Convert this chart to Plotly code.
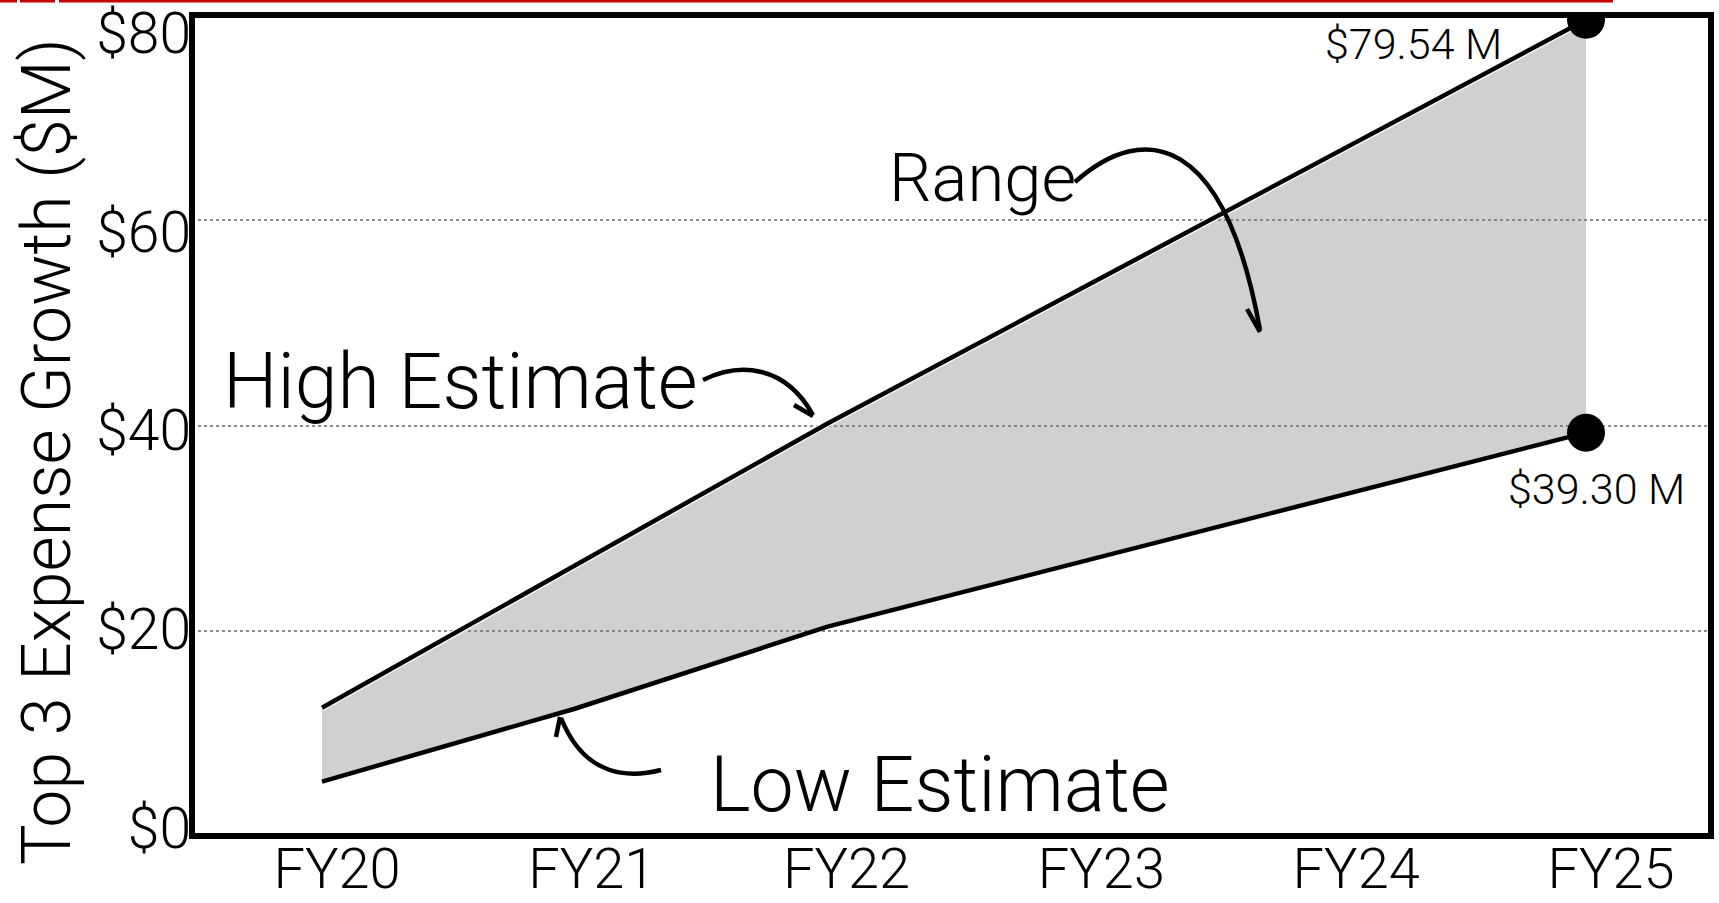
import plotly.graph_objects as go

# ---------------- data ----------------
YEARS = ["FY20", "FY21", "FY22", "FY23", "FY24", "FY25"]
HIGH = [12.5, 26.4, 40.2, 53.3, 66.4, 79.54]
LOW = [5.3, 12.4, 20.4, 26.7, 33.0, 39.30]
Y_TICKS = [0, 20, 40, 60, 80]
Y_TICK_TEXT = ["$0", "$20", "$40", "$60", "$80"]
END_LABELS = ["$79.54 M", "$39.30 M"]
Y_TITLE = "Top 3 Expense Growth ($M)"
NOTE_HIGH = "High Estimate"
NOTE_LOW = "Low Estimate"
NOTE_RANGE = "Range"

X = list(range(len(YEARS)))

# ---------------- layout geometry ----------------
FIG_W, FIG_H = 1719, 903
M = dict(l=192, r=8, t=15, b=67)
PW = FIG_W - M["l"] - M["r"]
PH = FIG_H - M["t"] - M["b"]
PLOT_TOP, PLOT_BOTTOM = M["t"], FIG_H - M["b"]


def px(x):
    return (x - M["l"]) / PW


def py(y):
    return (PLOT_BOTTOM - y) / PH


def path(cmds):
    out = []
    for c, pts in cmds:
        out.append(c + " " + " ".join(f"{px(a):.5f},{py(b):.5f}" for a, b in pts))
    return " ".join(out)


FONT = "Roboto, 'Open Sans', sans-serif"
LIGHT = 300

fig = go.Figure()

# fill between low and high
fig.add_trace(go.Scatter(x=X, y=LOW, mode="lines", line=dict(width=0, color="rgba(0,0,0,0)"),
                         hoverinfo="skip", showlegend=False))
fig.add_trace(go.Scatter(x=X, y=HIGH, mode="lines", line=dict(width=0, color="rgba(0,0,0,0)"),
                         fill="tonexty", fillcolor="rgba(127,127,127,0.37)",
                         hoverinfo="skip", showlegend=False))
# lines (thin white halo under the high line, as in the reference)
fig.add_trace(go.Scatter(x=X, y=HIGH, mode="lines", line=dict(width=7, color="white"),
                         hoverinfo="skip", showlegend=False))
fig.add_trace(go.Scatter(x=X, y=LOW, mode="lines", line=dict(width=4.5, color="black"),
                         showlegend=False))
fig.add_trace(go.Scatter(x=X, y=HIGH, mode="lines", line=dict(width=4.5, color="black"),
                         showlegend=False))
# end markers
fig.add_trace(go.Scatter(x=[X[-1], X[-1]], y=[HIGH[-1], LOW[-1]], mode="markers",
                         marker=dict(size=38, color="black"), showlegend=False))
# invisible trace carrying the label axis (labels sit slightly off the gridlines)
fig.add_trace(go.Scatter(x=X, y=LOW, yaxis="y2", mode="lines",
                         line=dict(width=0, color="rgba(0,0,0,0)"),
                         hoverinfo="skip", showlegend=False))

shapes = []
# plot frame
shapes.append(dict(type="rect", xref="paper", yref="paper", x0=0, x1=1, y0=0, y1=1,
                   line=dict(color="black", width=6), layer="above"))
# red rule at the very top (cropped slide artefact)
for a, b in [(0, 17), (20, 55), (59, 1613)]:
    shapes.append(dict(type="rect", xref="paper", yref="paper", x0=px(a), x1=px(b),
                       y0=py(2.5), y1=py(0), line=dict(width=0), fillcolor="#c40000",
                       layer="above"))

# curved arrows
arrow_style = dict(type="path", xref="paper", yref="paper",
                   line=dict(color="black", width=4.5), layer="above")
arrows = [
    # Range
    [("M", [(1075, 182)]), ("C", [(1145, 120), (1225, 135), (1260, 330)])],
    [("M", [(1247, 309)]), ("L", [(1260, 332), (1271, 309)])],
    # High estimate
    [("M", [(703, 380)]), ("C", [(740, 362), (785, 365), (813, 415)])],
    [("M", [(794, 405)]), ("L", [(813, 416), (810, 393)])],
    # Low estimate
    [("M", [(661, 770)]), ("C", [(630, 778), (585, 778), (561, 718)])],
    [("M", [(556, 737)]), ("L", [(560, 717), (579, 730)])],
]
for a in arrows:
    shapes.append(dict(arrow_style, path=path(a)))

annotations = [
    dict(text=Y_TITLE, xref="paper", yref="paper", x=px(47), y=py(452), textangle=-90,
         showarrow=False, xanchor="center", yanchor="middle",
         font=dict(family=FONT, size=68, color="black", weight=LIGHT)),
    dict(text=NOTE_HIGH, xref="paper", yref="paper", x=px(460), y=py(382),
         showarrow=False, xanchor="center", yanchor="middle",
         font=dict(family=FONT, size=77, color="black", weight=LIGHT)),
    dict(text=NOTE_LOW, xref="paper", yref="paper", x=px(940), y=py(785),
         showarrow=False, xanchor="center", yanchor="middle",
         font=dict(family=FONT, size=77, color="black", weight=LIGHT)),
    dict(text=NOTE_RANGE, xref="paper", yref="paper", x=px(982), y=py(178),
         showarrow=False, xanchor="center", yanchor="middle",
         font=dict(family=FONT, size=67, color="black", weight=LIGHT)),
    dict(text=END_LABELS[0], x=X[-1], y=HIGH[-1], xshift=-173, yshift=-24,
         showarrow=False, xanchor="center", yanchor="middle",
         font=dict(family=FONT, size=43, color="black", weight=LIGHT)),
    dict(text=END_LABELS[1], x=X[-1], y=LOW[-1], xshift=10, yshift=-56,
         showarrow=False, xanchor="center", yanchor="middle",
         font=dict(family=FONT, size=43, color="black", weight=LIGHT)),
]

# x positions: data at index 0..5; tick labels slightly offset/spaced as in reference
X0_PX, X5_PX = 322, 1586
UNIT = (X5_PX - X0_PX) / 5
x_range = [-(X0_PX - M["l"]) / UNIT, 5 + (M["l"] + PW - X5_PX) / UNIT]
LABEL0_PX, LABEL_STEP_PX = 337, 254.8
tickvals = [(LABEL0_PX - X0_PX) / UNIT + i * LABEL_STEP_PX / UNIT for i in X]

# y tick labels: $0 centred near 828 px, $80 near the top edge (reference spacing)
YL0_PX, YL80_PX = 828, 33
YUNIT = (YL0_PX - YL80_PX) / 80
y2_range = [-(PLOT_BOTTOM - YL0_PX) / YUNIT, 80 + (YL80_PX - PLOT_TOP) / YUNIT]

fig.update_layout(
    width=FIG_W, height=FIG_H, margin=M,
    paper_bgcolor="white", plot_bgcolor="white",
    shapes=shapes, annotations=annotations, showlegend=False,
    xaxis=dict(range=x_range, tickmode="array", tickvals=tickvals, ticktext=YEARS,
               showgrid=False, zeroline=False, showline=False, ticks="",
               tickfont=dict(family=FONT, size=56, color="black", weight=LIGHT),
               ticklabelstandoff=-5,
               automargin=False, fixedrange=True),
    yaxis=dict(range=[0, 80], tickmode="array", tickvals=Y_TICKS,
               showticklabels=False,
               showgrid=True, gridcolor="#8c8c8c", gridwidth=1.5, griddash="dot",
               zeroline=False, showline=False, ticks="",
               automargin=False, fixedrange=True),
    yaxis2=dict(range=y2_range, overlaying="y", side="left", anchor="x",
                tickmode="array", tickvals=Y_TICKS, ticktext=Y_TICK_TEXT,
                showgrid=False, zeroline=False, showline=False, ticks="",
                tickfont=dict(family=FONT, size=57, color="black", weight=LIGHT),
                ticklabeloverflow="allow",
                automargin=False, fixedrange=True),
)

fig.write_html("out.html", config={"displayModeBar": False})
